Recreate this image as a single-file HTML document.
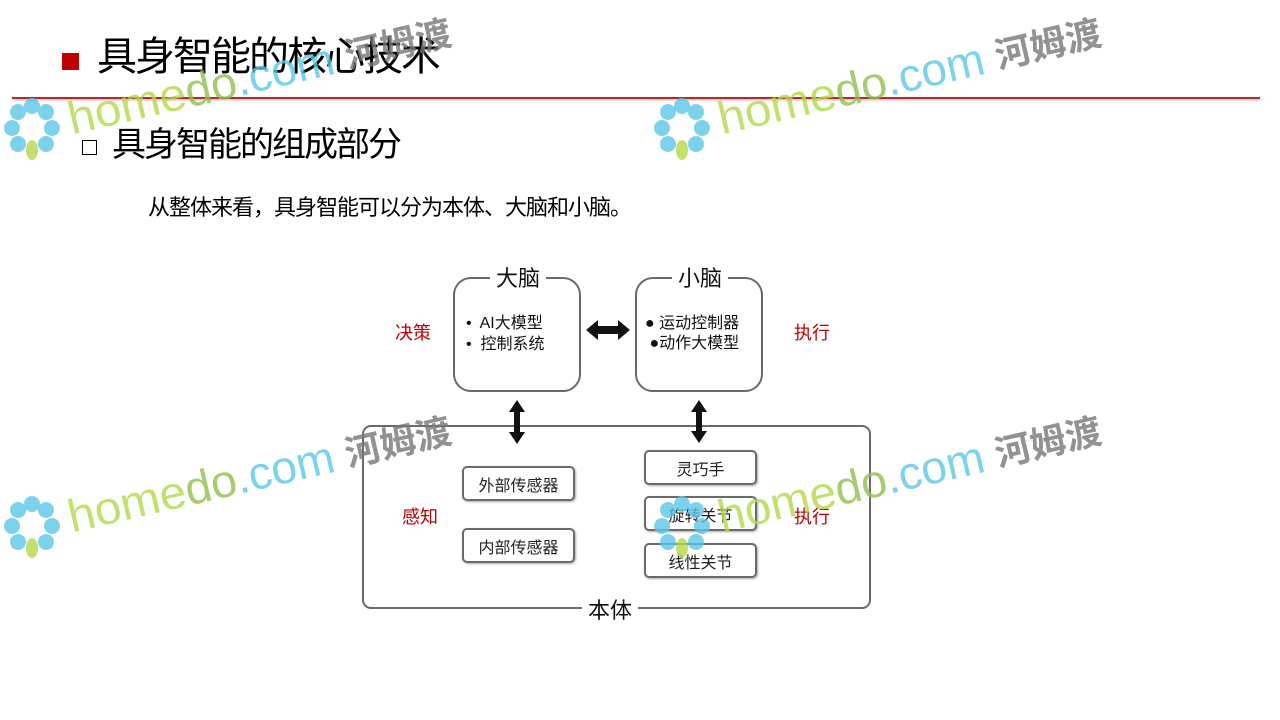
<!DOCTYPE html>
<html><head><meta charset="utf-8"><style>
html,body{margin:0;padding:0;background:#fff;}
body{width:1280px;height:720px;position:relative;overflow:hidden;font-family:"Liberation Sans","Noto Sans CJK SC",sans-serif;}
.a{position:absolute;white-space:nowrap;}
.box{position:absolute;border:2px solid #6a6a6a;background:transparent;box-sizing:border-box;}
.sb{position:absolute;border:2px solid #6a6a6a;border-radius:5px;box-sizing:border-box;font-size:16px;color:#222;display:flex;align-items:center;justify-content:center;box-shadow:1px 1px 2px #aaa;}
.lbl{position:absolute;background:#fff;font-size:22px;color:#111;padding:0 6px;transform:translate(-50%,-50%);}
.red{position:absolute;color:#c00000;font-size:18px;transform:translate(-50%,-50%);}
</style></head><body>
<div class="a" style="left:62px;top:53px;width:17px;height:17px;background:#c00000"></div>
<div class="a" style="left:97px;top:32px;font-size:40px;color:#000;line-height:50px;letter-spacing:-2px">具身智能的核心技术</div>
<div class="a" style="left:12px;top:97px;width:1248px;height:2px;background:#a8302c;box-shadow:0 1px 2px #e99"></div>
<div class="a" style="left:82px;top:140px;width:13px;height:13px;border:1.5px solid #000"></div>
<div class="a" style="left:112px;top:124px;font-size:34px;color:#000;line-height:42px;letter-spacing:-2px">具身智能的组成部分</div>
<div class="a" style="left:148px;top:194px;font-size:22px;color:#000;line-height:28px;letter-spacing:-1px">从整体来看，具身智能可以分为本体、大脑和小脑。</div>

<div class="box" style="left:453px;top:277px;width:128px;height:115px;border-radius:18px"></div>
<div class="box" style="left:635px;top:277px;width:128px;height:115px;border-radius:18px"></div>
<div class="box" style="left:362px;top:425px;width:509px;height:184px;border-radius:9px"></div>
<div class="lbl" style="left:518px;top:277px">大脑</div>
<div class="lbl" style="left:700px;top:277px">小脑</div>
<div class="lbl" style="left:610px;top:609px">本体</div>
<div class="a" style="left:466px;top:313px;font-size:16px;line-height:21px;color:#111">•&nbsp; AI大模型<br>•&nbsp; 控制系统</div>
<div class="a" style="left:645px;top:314px;font-size:16px;line-height:20px;color:#111">● 运动控制器<br>&nbsp;●动作大模型</div>

<svg class="a" style="left:0;top:0" width="1280" height="720">
<g fill="#111">
<polygon points="586,330 598,320 598,326 618,326 618,320 630,330 618,340 618,334 598,334 598,340"/>
<polygon points="517,400 525,412 520,412 520,432 525,432 517,444 509,432 514,432 514,412 509,412"/>
<polygon points="699,400 707,412 702,412 702,431 707,431 699,443 691,431 696,431 696,412 691,412"/>
</g>
</svg>

<div class="sb" style="left:462px;top:466px;width:113px;height:35px">外部传感器</div>
<div class="sb" style="left:462px;top:528px;width:113px;height:35px">内部传感器</div>
<div class="sb" style="left:644px;top:450px;width:113px;height:35px">灵巧手</div>
<div class="sb" style="left:644px;top:496px;width:113px;height:35px">旋转关节</div>
<div class="sb" style="left:644px;top:543px;width:113px;height:35px">线性关节</div>
<div class="red" style="left:413px;top:332px">决策</div>
<div class="red" style="left:812px;top:332px">执行</div>
<div class="red" style="left:420px;top:516px">感知</div>
<div class="red" style="left:812px;top:516px">执行</div>

<svg class="a" style="left:0;top:0;opacity:0.8" width="1280" height="720" font-family="Liberation Sans, Noto Sans CJK SC, sans-serif">
<g id="w">
<g fill="#5bc8e6"><circle cx="18" cy="112" r="8"/><circle cx="32" cy="106" r="8"/><circle cx="46" cy="112" r="8"/><circle cx="12" cy="128" r="8"/><circle cx="52" cy="128" r="8"/><circle cx="18" cy="144" r="8"/><circle cx="46" cy="144" r="8"/></g>
<ellipse cx="32" cy="150" rx="6" ry="10" fill="#b7d84a"/>
<g transform="rotate(-13 70 135)">
<text x="72" y="135" font-size="46" fill="#b7d84a" textLength="120" lengthAdjust="spacingAndGlyphs">home</text>
<text x="192" y="135" font-size="46" fill="#8fc04a" textLength="52" lengthAdjust="spacingAndGlyphs">do</text>
<text x="244" y="135" font-size="46" fill="#5bc8e6" textLength="100" lengthAdjust="spacingAndGlyphs">.com</text>
<text x="356" y="133" font-size="36" font-weight="bold" fill="#777">河姆渡</text>
</g>
</g>
<use href="#w" transform="translate(650,0)"/>
<use href="#w" transform="translate(0,398)"/>
<use href="#w" transform="translate(650,398)"/>
</svg>
</body></html>
